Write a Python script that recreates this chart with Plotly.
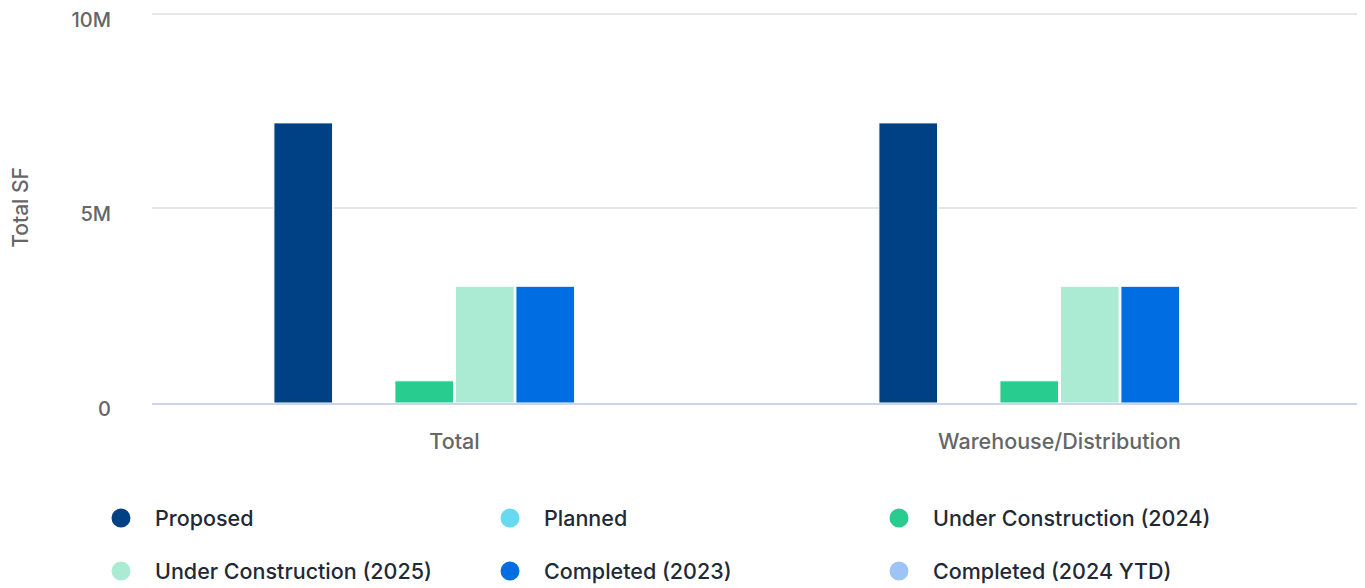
import plotly.graph_objects as go

categories = ["Total", "Warehouse/Distribution"]
series_names = ["Proposed", "Planned", "Under Construction (2024)",
                "Under Construction (2025)", "Completed (2023)", "Completed (2024 YTD)"]
proposed = [7.2e6, 7.2e6]
planned = [0, 0]
uc_2024 = [0.57e6, 0.57e6]
uc_2025 = [3.0e6, 3.0e6]
completed_2023 = [3.0e6, 3.0e6]
completed_2024_ytd = [0, 0]
colors = ["#004185", "#67d9f0", "#29cc8f", "#abebd4", "#006ee3", "#9dc4f5"]
tick_vals = [0, 5e6, 10e6]
tick_text = ["0", "5M", "10M"]

values = [proposed, planned, uc_2024, uc_2025, completed_2023, completed_2024_ytd]

FONT = "Inter"
W, H = 1357, 580  # page body has an 8px margin
fig = go.Figure()
for name, vals, col in zip(series_names, values, colors):
    fig.add_trace(go.Bar(x=categories, y=vals, name=name, marker_color=col,
                         marker_line=dict(color="white", width=1), showlegend=False))

for i, (name, col) in enumerate(zip(series_names, colors)):
    fig.add_trace(go.Scatter(x=[None], y=[None], mode="markers", name=name,
                             marker=dict(symbol="circle", size=16, color=col,
                                         line=dict(color=col, width=3)),
                             legend="legend" if i < 3 else "legend2"))

legend_common = dict(orientation="h", xref="container", yref="container",
                     x=79 / W, xanchor="left", yanchor="middle",
                     entrywidth=316, entrywidthmode="pixels", itemwidth=58,
                     font=dict(family=FONT, size=21.5, color="#1f2a36", weight=500),
                     bgcolor="rgba(0,0,0,0)", itemclick=False)

fig.update_layout(
    width=W, height=H,
    margin=dict(l=144, r=3, t=4, b=185),
    paper_bgcolor="white", plot_bgcolor="white",
    barmode="group", bargap=0.4, bargroupgap=0.03,
    font=dict(family=FONT, color="#666666"),
    legend=dict(legend_common, y=1 - 510 / H),
    legend2=dict(legend_common, y=1 - 563 / H),
    xaxis=dict(showgrid=False, showline=True, linecolor="#ccd6eb", linewidth=2,
               automargin=False,
               tickfont=dict(family=FONT, size=21.5, color="#666666", weight=500),
               ticks="", ticklabelstandoff=18),
    yaxis=dict(range=[0, 10.05e6], tickvals=tick_vals, ticktext=tick_text,
               showgrid=True, gridcolor="#e6e6e6", gridwidth=2, automargin=False,
               zeroline=False, showline=False, ticks="",
               ticklabeloverflow="allow", ticklabelshift=6,
               tickfont=dict(family=FONT, size=20, color="#666666", weight=500),
               ticklabelstandoff=40,
               title=dict(text="Total SF", standoff=46,
                          font=dict(family=FONT, size=21, color="#666666", weight=500))),
)

fig.write_html("out.html")
